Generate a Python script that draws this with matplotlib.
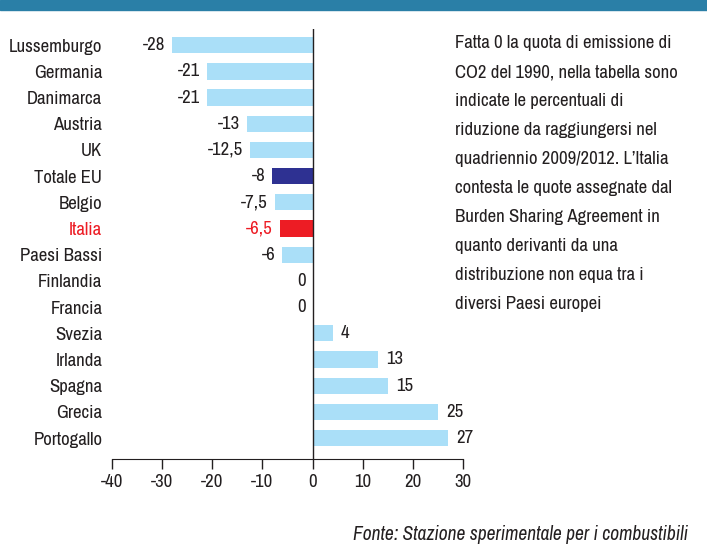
import matplotlib.pyplot as plt
from matplotlib.patches import Rectangle

# dati: riduzione percentuale delle emissioni di CO2 rispetto al 1990
paesi = ["Lussemburgo", "Germania", "Danimarca", "Austria", "UK", "Totale EU",
         "Belgio", "Italia", "Paesi Bassi", "Finlandia", "Francia", "Svezia",
         "Irlanda", "Spagna", "Grecia", "Portogallo"]
valori = [-28, -21, -21, -13, -12.5, -8, -7.5, -6.5, -6, 0, 0, 4, 13, 15, 25, 27]

nota = ("Fatta 0 la quota di emissione di\n"
        "CO2 del 1990, nella tabella sono\n"
        "indicate le percentuali di\n"
        "riduzione da raggiungersi nel\n"
        "quadriennio 2009/2012. L\u2019Italia\n"
        "contesta le quote assegnate dal\n"
        "Burden Sharing Agreement in\n"
        "quanto derivanti da una\n"
        "distribuzione non equa tra i\n"
        "diversi Paesi europei")
fonte = "Fonte: Stazione sperimentale per i combustibili"

plt.rcParams['font.family'] = ['Archivo Narrow', 'Liberation Sans', 'DejaVu Sans']
plt.rcParams['axes.unicode_minus'] = False

azzurro = '#aadff8'
blu = '#2e3192'
rosso = '#ed1c24'
testo = '#231f20'
fs = 13.5

colori = []
for p in paesi:
    if p == "Totale EU":
        colori.append(blu)
    elif p == "Italia":
        colori.append(rosso)
    else:
        colori.append(azzurro)

fig = plt.figure(figsize=(7.07, 5.47), dpi=100)
ax = fig.add_axes([112 / 707, 1 - 459 / 547, 351 / 707, 430 / 547])

y = list(range(len(paesi)))
ax.barh(y, valori, height=0.62, color=colori)

# etichette dei valori
for i, v in enumerate(valori):
    lab = str(v).replace('.', ',')
    col = rosso if paesi[i] == "Italia" else testo
    if v > 0:
        ax.annotate(lab, (v, i), xytext=(6, 0), textcoords='offset points',
                    ha='left', va='center', fontsize=fs, color=col)
    else:
        ax.annotate(lab, (v, i), xytext=(-5, 0), textcoords='offset points',
                    ha='right', va='center', fontsize=fs, color=col)

ax.set_xlim(-40, 30)
ax.set_ylim(len(paesi) - 0.2, -0.62)
ax.set_xticks(range(-40, 31, 10))
ax.set_yticks(y)
ax.set_yticklabels(paesi, fontsize=fs, color=testo)
for t, p in zip(ax.get_yticklabels(), paesi):
    if p == "Italia":
        t.set_color(rosso)
ax.tick_params(axis='y', length=0, pad=7)
ax.tick_params(axis='x', length=7, width=1, direction='out', labelsize=fs,
               colors=testo, pad=4)

for s in ['left', 'right', 'top']:
    ax.spines[s].set_visible(False)
ax.spines['bottom'].set_color(testo)
ax.axvline(0, color=testo, lw=1)

# nota a destra
fig.text(455 / 707, 1 - 35 / 547, nota, ha='left', va='top', fontsize=fs,
         color=testo, linespacing=2.0)

# fonte
fig.text(688 / 707, 1 - 535 / 547, fonte, ha='right', va='center',
         fontsize=14, style='italic', color=testo)

# fascia in alto
fig.patches.append(Rectangle((0, 1 - 10 / 547), 1, 10 / 547,
                             transform=fig.transFigure, color='#2a7fa7'))

fig.savefig('out.png', dpi=100)
